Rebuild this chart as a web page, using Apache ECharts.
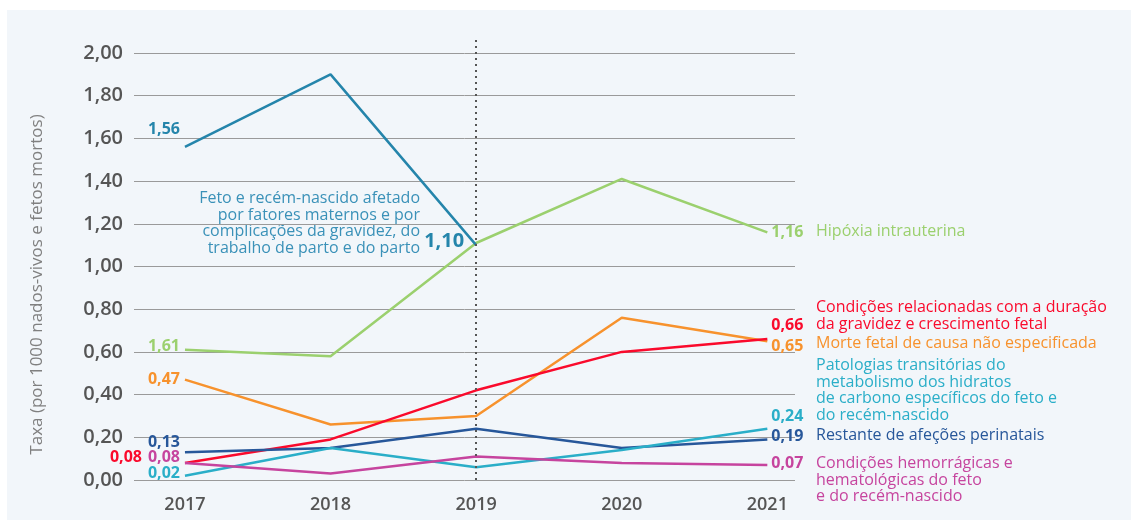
<!DOCTYPE html>
<html>
<head>
<meta charset="utf-8">
<script src="https://cdn.jsdelivr.net/npm/echarts@6/dist/echarts.min.js"></script>
<style>
html,body{margin:0;padding:0;background:#fff;}
#c{width:1131px;height:522px;}
</style>
</head>
<body>
<div id="c"></div>
<script>
var years = [2017, 2018, 2019, 2020, 2021];
var yTicks = ['0,00','0,20','0,40','0,60','0,80','1,00','1,20','1,40','1,60','1,80','2,00'];

var feto      = [1.56, 1.90, 1.10, null, null];
var hipoxia   = [0.61, 0.58, 1.11, 1.41, 1.16];
var morte     = [0.47, 0.26, 0.30, 0.76, 0.65];
var duracao   = [0.08, 0.19, 0.42, 0.60, 0.66];
var restante  = [0.13, 0.15, 0.24, 0.15, 0.19];
var patolog   = [0.02, 0.15, 0.06, 0.14, 0.24];
var hemorrag  = [0.08, 0.03, 0.11, 0.08, 0.07];

var fetoLabels     = ['1,56', null, '1,10', null, null];
var hipoxiaLabels  = ['1,61', null, null, null, '1,16'];
var morteLabels    = ['0,47', null, null, null, '0,65'];
var duracaoLabels  = ['0,08', null, null, null, '0,66'];
var restanteLabels = ['0,13', null, null, null, '0,19'];
var patologLabels  = ['0,02', null, null, null, '0,24'];
var hemorragLabels = ['0,08', null, null, null, '0,07'];

var seriesNames = {
  feto: 'Feto e recém-nascido afetado\npor fatores maternos e por\ncomplicações da gravidez, do\ntrabalho de parto e do parto',
  hipoxia: 'Hipóxia intrauterina',
  duracao: 'Condições relacionadas com a duração\nda gravidez e crescimento fetal',
  morte: 'Morte fetal de causa não especificada',
  patolog: 'Patologias transitórias do\nmetabolismo dos hidratos\nde carbono específicos do feto e\ndo recém-nascido',
  restante: 'Restante de afeções perinatais',
  hemorrag: 'Condições hemorrágicas e\nhematológicas do feto\ne do recém-nascido'
};

var FONT = '"Open Sans", "Noto Sans", sans-serif';

function buildData(vals, labels, color, startCfg, endCfg, midCfg) {
  var out = [];
  for (var i = 0; i < years.length; i++) {
    if (vals[i] === null) continue;
    var item = { value: [years[i], vals[i]] };
    if (labels[i] !== null) {
      var cfg = (i === 0) ? startCfg : (i === years.length - 1 ? endCfg : midCfg);
      item.label = {
        show: true,
        formatter: labels[i],
        position: cfg.pos,
        distance: cfg.dist,
        offset: cfg.off,
        color: color,
        fontFamily: FONT,
        fontWeight: 700,
        fontSize: cfg.size || 16
      };
    }
    out.push(item);
  }
  return out;
}

function mkSeries(name, vals, labels, color, s, e, m) {
  return {
    name: name,
    type: 'line',
    data: buildData(vals, labels, color, s, e, m),
    symbol: 'circle',
    symbolSize: 0.01,
    showSymbol: true,
    showAllSymbol: true,
    lineStyle: { color: color, width: 2.5 },
    itemStyle: { color: color },
    label: { show: false },
    silent: true,
    animation: false,
    xAxisIndex: 0,
    yAxisIndex: 0,
    z: 3
  };
}

var C = {
  feto: '#2585ab', hipoxia: '#9bd06e', morte: '#f7922d', duracao: '#fa0a2c',
  restante: '#27579a', patolog: '#2aaec8', hemorrag: '#c6449e'
};

var series = [
  mkSeries('hipoxia', hipoxia, hipoxiaLabels, C.hipoxia,
    {pos:'left', dist:5, off:[0,-3]}, {pos:'right', dist:4, off:[0,0]}),
  mkSeries('feto', feto, fetoLabels, C.feto,
    {pos:'left', dist:5, off:[0,-18]}, null, {pos:'left', dist:12, off:[0,-4], size:20}),
  mkSeries('morte', morte, morteLabels, C.morte,
    {pos:'left', dist:5, off:[0,0]}, {pos:'right', dist:4, off:[0,5]}),
  mkSeries('duracao', duracao, duracaoLabels, C.duracao,
    {pos:'left', dist:43, off:[0,-5]}, {pos:'right', dist:4, off:[0,-14]}),
  mkSeries('restante', restante, restanteLabels, C.restante,
    {pos:'left', dist:5, off:[0,-10]}, {pos:'right', dist:4, off:[0,-3]}),
  mkSeries('patolog', patolog, patologLabels, C.patolog,
    {pos:'left', dist:5, off:[0,-2]}, {pos:'right', dist:4, off:[0,-12]}),
  mkSeries('hemorrag', hemorrag, hemorragLabels, C.hemorrag,
    {pos:'left', dist:5, off:[0,-5]}, {pos:'right', dist:4, off:[0,-2]})
];

// dotted vertical reference line at 2019 (taller hidden grid, reaches above the plot)
series.push({
  type: 'line',
  xAxisIndex: 1,
  yAxisIndex: 1,
  data: [],
  silent: true,
  animation: false,
  markLine: {
    silent: true,
    symbol: 'none',
    animation: false,
    label: { show: false },
    lineStyle: { color: '#555', type: [2, 4], width: 2 },
    data: [[{ coord: [2019, 0] }, { coord: [2019, 1] }]]
  },
  z: 2
});

function nameText(key, x, y, align) {
  return {
    type: 'text',
    left: align === 'right' ? null : x,
    right: align === 'right' ? (1131 - x) : null,
    top: y,
    style: {
      text: seriesNames[key],
      fill: key === 'feto' ? '#3a91b8' : C[key],
      font: '16px ' + FONT,
      lineHeight: 16.7,
      textAlign: align || 'left'
    },
    silent: true
  };
}

var chart = echarts.init(document.getElementById('c'), null, { renderer: 'canvas' });
chart.setOption({
  backgroundColor: '#ffffff',
  animation: false,
  graphic: [
    { type: 'rect', left: 7, top: 10, shape: { width: 1124, height: 510 }, style: { fill: '#f2f6fa' }, z: -10, silent: true },
    nameText('hipoxia', 816, 223),
    nameText('duracao', 816, 299),
    nameText('morte', 816, 335),
    nameText('patolog', 816, 357),
    nameText('restante', 816, 427),
    nameText('hemorrag', 816, 455),
    nameText('feto', 420, 190, 'right')
  ],
  grid: [
    { left: 134, right: 336, top: 53, bottom: 42, containLabel: false },
    { left: 134, right: 336, top: 39, bottom: 42, containLabel: false }
  ],
  xAxis: [{
    type: 'value',
    gridIndex: 0,
    min: 2016.65,
    max: 2021.19,
    splitLine: { show: false },
    axisLine: { show: false },
    axisTick: { show: false },
    axisLabel: {
      customValues: years,
      formatter: function (v) { return String(v); },
      color: '#555',
      fontFamily: FONT,
      fontWeight: 600,
      fontSize: 18,
      margin: 16
    }
  }, {
    type: 'value',
    gridIndex: 1,
    min: 2016.65,
    max: 2021.19,
    show: false
  }],
  yAxis: [{
    type: 'value',
    gridIndex: 0,
    min: 0,
    max: 2,
    interval: 0.2,
    name: 'Taxa (por 1000 nados-vivos e fetos mortos)',
    nameLocation: 'middle',
    nameRotate: 90,
    nameGap: 88,
    nameTextStyle: { color: '#808080', fontFamily: FONT, fontSize: 17, padding: [0, 36, 0, 0] },
    axisLine: { show: false },
    axisTick: { show: false },
    splitLine: { lineStyle: { color: '#9a9a9a', width: 1 } },
    axisLabel: {
      formatter: function (v) { return yTicks[Math.round(v / 0.2)]; },
      color: '#555',
      fontFamily: FONT,
      fontWeight: 600,
      fontSize: 20,
      margin: 11
    }
  }, {
    type: 'value',
    gridIndex: 1,
    min: 0,
    max: 1,
    show: false
  }],
  series: series
});
</script>
</body>
</html>
